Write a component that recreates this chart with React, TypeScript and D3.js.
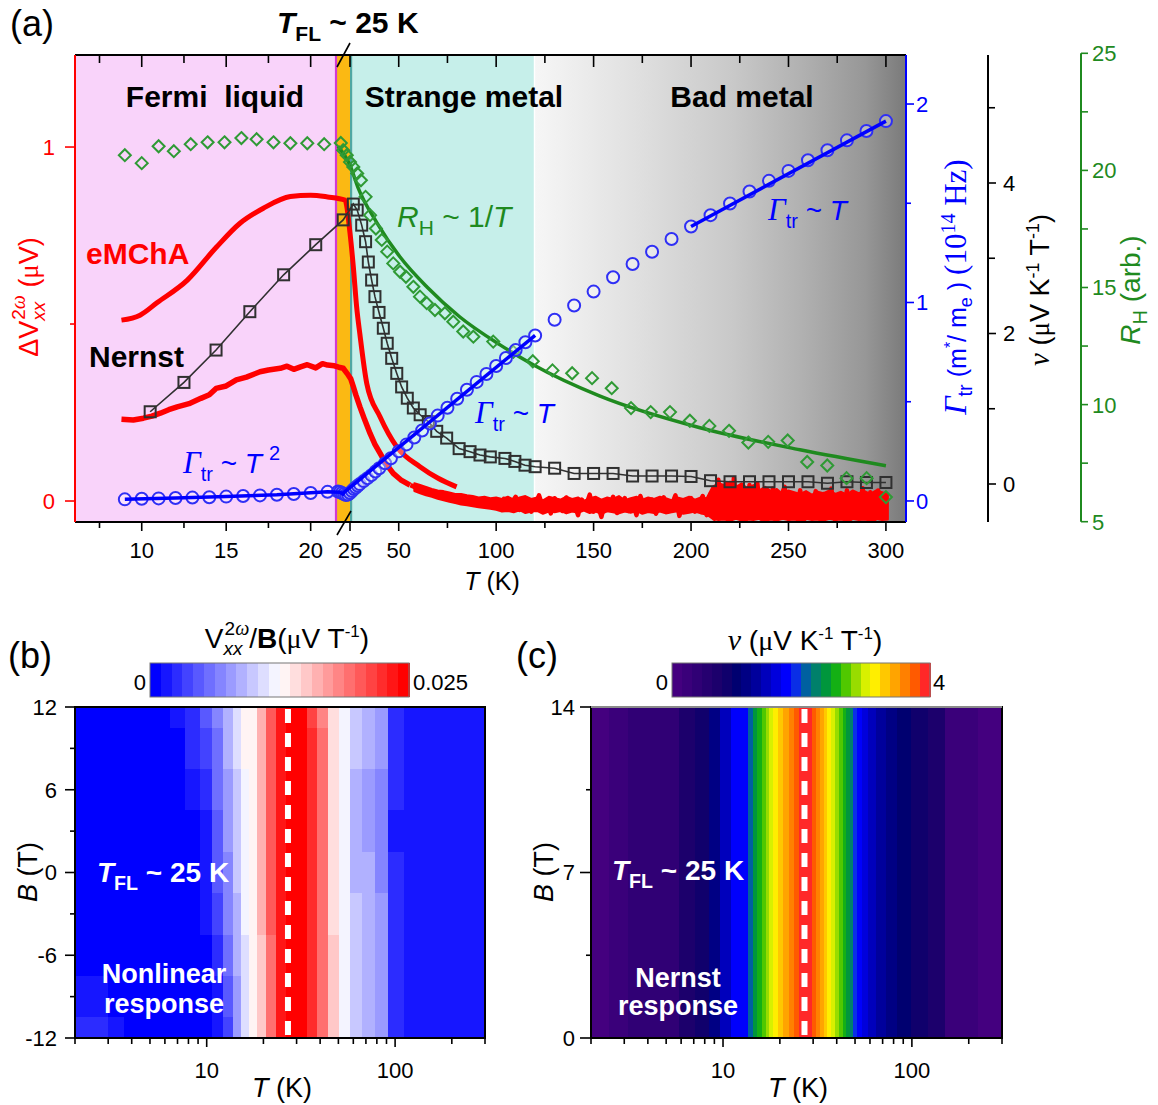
import React from "react";
import * as d3 from "d3";

const SANS = "'Liberation Sans', Arial, Helvetica, sans-serif";
const SERIF = "'Liberation Serif', 'Times New Roman', serif";
const RED = "#ff0000";
const BLUE = "#0000ff";
const GREEN = "#1f8a1f";
const GREEN_MARK = "#2f9a35";
const DARK = "#303030";

// ================= panel (a) =================
// broken T axis: 6-21.5 K stretched, 21.5-25 K squeezed, 25-310 K linear
const tBreaks = [6.05, 21.5, 25, 310.3];

// Γtr (10^14 Hz), open blue circles
const gammaT = [9, 10, 11, 12, 13, 14, 15, 16, 17, 18, 19, 20, 21,
  22, 22.5, 23, 23.5, 24, 24.5,
  25, 26, 27, 28, 29, 30, 32, 34, 36, 38, 40, 43, 46, 50, 54, 58, 62, 66, 70, 75, 80, 85, 90, 95, 100, 105, 110, 115, 120,
  130, 140, 150, 160, 170, 180, 190, 200, 210, 220, 230, 240, 250, 260, 270, 280, 290, 300];
const gammaV = [0.008, 0.011, 0.013, 0.015, 0.017, 0.019, 0.022, 0.025, 0.028, 0.031, 0.035, 0.04, 0.046,
  0.048, 0.045, 0.04, 0.035, 0.03, 0.032,
  0.04, 0.05, 0.06, 0.068, 0.077, 0.085, 0.1, 0.115, 0.13, 0.148, 0.165, 0.19, 0.215, 0.25, 0.285, 0.32, 0.355, 0.39, 0.43, 0.47, 0.515, 0.56, 0.6, 0.64, 0.68, 0.72, 0.76, 0.8, 0.834,
  0.913, 0.985, 1.055, 1.127, 1.194, 1.256, 1.32, 1.383, 1.44, 1.499, 1.559, 1.613, 1.663, 1.717, 1.767, 1.817, 1.864, 1.914];
// fits: Γ ~ T², Γ ~ T (strange metal), Γ ~ T (bad metal)
const gammaSqT = [9, 12, 15, 18, 21, 22.5, 23.6];
const gammaSqV = [0.008, 0.015, 0.022, 0.031, 0.046, 0.044, 0.03];
const gammaLinT = [23.3, 120];
const gammaLinV = [0.04, 0.834];
const gammaHighT = [200, 300];
const gammaHighV = [1.383, 1.914];

// Nernst ν (μV K^-1 T^-1), open squares
const nuT = [10.5, 12.5, 14.4, 16.4, 18.4, 20.3, 23.3,
  26.7, 28.7, 31, 33, 34.4, 36.1, 37.8, 39.9, 42.1, 44.1,
  46.4, 49, 51.5, 54.4, 57.5, 61, 65.2, 69.5, 74.6, 81,
  86.6, 91.7, 97, 104.5, 109.6, 114.8, 120,
  130, 140, 150, 160, 170, 180, 190, 200, 210, 220, 230, 240, 250, 260, 270, 280, 290, 300];
const nuV = [0.96, 1.35, 1.78, 2.29, 2.78, 3.18, 3.51,
  3.72, 3.64, 3.44, 3.22, 2.95, 2.71, 2.49, 2.28, 2.07, 1.87,
  1.67, 1.47, 1.29, 1.14, 1.01, 0.92, 0.83, 0.7, 0.61, 0.47,
  0.43, 0.385, 0.36, 0.34, 0.3, 0.25, 0.23,
  0.21, 0.14, 0.14, 0.14, 0.106, 0.106, 0.106, 0.1, 0.044, 0.03, 0.03, 0.03, 0.03, 0.03, 0.01, 0.03, 0.02, 0.02];

// Hall coefficient R_H (arb.), open diamonds + 1/T fit
const rhT = [9, 10, 11, 11.9, 12.9, 13.9, 14.9, 15.9, 16.8, 17.8, 18.8, 19.8, 20.8,
  22.7, 23.3, 24.2, 25,
  26.7, 28.7, 30.6, 33, 35.3, 38.3, 41.3, 44.1, 47.2, 50.7,
  53.7, 57.5, 60.9, 64.4, 68.6, 73.7, 78, 83.1, 88.3, 98.5,
  108.8, 118.8, 128.9, 139, 149.2, 159.3, 169.2, 179.3, 189.2, 199.4,
  209.4, 219.5, 229.4, 239.6, 249.6, 259.6, 269.9, 279.8, 290.1, 300];
const rhV = [20.65, 20.31, 21.03, 20.82, 21.12, 21.2, 21.2, 21.38, 21.33, 21.2, 21.16, 21.16, 21.12,
  21.17, 20.86, 20.65, 20.36,
  20.15, 19.87, 19.58, 18.87, 18.09, 17.52, 17.03, 16.53, 16.03, 15.67,
  15.46, 15.03, 14.61, 14.33, 14.04, 13.9, 13.54, 13.12, 12.9, 12.69,
  12.25, 11.85, 11.46, 11.34, 11.13, 10.7, 9.85, 9.68, 9.68, 9.31,
  9.09, 8.88, 8.38, 8.41, 8.47, 7.55, 7.4, 6.86, 6.86, 6.05];
const rhFitT = [22, 25, 29, 38.9, 50.7, 64.5, 81.4, 102, 119, 153, 204.6, 255.9, 300];
const rhFitV = [21.03, 20.22, 19.29, 17.75, 16.3, 15.02, 13.74, 12.55, 11.7, 10.37, 9.01, 8.07, 7.39];

// eMChA ΔV (μV): upper smooth trace
const emUpT = [8.8, 9.9, 10.9, 12.7, 14.4, 15.8, 17.2, 18.8, 20, 21, 23.75, 25, 26.7, 28.4, 30.1, 33.6, 40.4, 49, 60.9, 70, 79.7];
const emUpV = [0.511, 0.525, 0.56, 0.624, 0.716, 0.784, 0.827, 0.86, 0.864, 0.859, 0.85, 0.757, 0.662, 0.549, 0.47, 0.332, 0.238, 0.153, 0.097, 0.065, 0.04];
// lower trace
const emLoT = [8.8, 9.5, 10.1, 10.6, 11.1, 11.6, 12.1, 12.8, 13.5, 14,
  14.4, 15, 15.6, 16.2, 17, 17.5, 18.2, 18.6, 19, 19.4,
  19.8, 20.3, 20.7, 21, 21.4, 22.2, 23.3, 24.3, 25.4, 26.7,
  28, 30.1, 32.5, 35.3, 37.8, 40.4, 43.5, 47.2, 51, 55.8];
const emLoV = [0.231, 0.229, 0.234, 0.24, 0.248, 0.258, 0.266, 0.275, 0.29, 0.3,
  0.318, 0.325, 0.342, 0.35, 0.365, 0.37, 0.375, 0.381, 0.372, 0.379,
  0.385, 0.376, 0.388, 0.384, 0.382, 0.378, 0.375, 0.36, 0.345, 0.323,
  0.3, 0.266, 0.23, 0.191, 0.16, 0.135, 0.105, 0.078, 0.06, 0.045];
// noisy tail of the lower trace, every 2 K from 56 K
const emTailT = d3.range(56, 301, 2);
const emTailV = [0.045, 0.04, 0.035, 0.03, 0.027, 0.022, 0.02, 0.016, 0.014, 0.012, 0.01, 0.006, 0.008, 0.003, 0.006, 0.0, 0.004, -0.004, 0.002, -0.006, 0.004, -0.01, 0.0,
  -0.02, 0.006, -0.012, -0.004, 0.012, -0.025, -0.006, 0.004, -0.03, -0.01,
  0.016, -0.018, -0.002, -0.035, 0.008, -0.012, -0.028, 0.01, -0.02, -0.006,
  -0.04, 0.004, -0.015, 0.018, -0.03, -0.008, -0.045, 0.0, -0.02, 0.012,
  -0.034, -0.01, 0.008, -0.028, -0.004, -0.04, 0.014, -0.016, -0.026, 0.004,
  -0.036, -0.008, 0.01, -0.03, -0.012, 0.016, -0.042, -0.004, -0.022, 0.008,
  -0.03, -0.01, 0.014, -0.04, 0.02,
  -0.05, 0.06, -0.03, 0.05, -0.055, 0.065, -0.04, 0.03, -0.055, 0.045,
  -0.02, 0.05, -0.05, 0.02, -0.045, 0.035, -0.055, 0.01, 0.04, -0.05,
  0.02, -0.035, 0.03, -0.055, 0.012, -0.02, 0.028, -0.05, 0.02, -0.04,
  0.035, -0.055, 0.015, -0.03, 0.03, -0.05, 0.02, -0.045, 0.036, -0.03,
  0.025, -0.055, 0.03, -0.04, 0.02];
// dense core of the noisy band (upper / lower edge), every 3 K from 58 K
const emBandT = d3.range(58, 302, 3);
const emBandHi = [0.05, 0.045, 0.04, 0.034, 0.03, 0.028, 0.024, 0.02, 0.02, 0.016, 0.014, 0.01, 0.012, 0.008,
  0.01, 0.006, 0.012, 0.004, 0.01, 0.014, 0.006, 0.01, 0.002, 0.012, 0.008, 0.004, 0.012, 0.006, 0.01, 0.0, 0.008, 0.012, 0.004, 0.01,
  0.006, 0.014, 0.002, 0.008, 0.012, 0.004, 0.01, 0.006, 0.012, 0.008, 0.002, 0.01, 0.006, 0.012, 0.004, 0.01, 0.008,
  0.04, 0.05, 0.045, 0.055, 0.04, 0.05, 0.035, 0.045, 0.03, 0.04, 0.028, 0.034, 0.02, 0.03, 0.025, 0.02, 0.028, 0.018, 0.026, 0.022,
  0.03, 0.02, 0.026, 0.018, 0.03, 0.022, 0.028, 0.02, 0.03, 0.025, 0.02];
const emBandLo = [0.028, 0.022, 0.016, 0.012, 0.006, 0.002, -0.002, -0.006, -0.01, -0.012, -0.015, -0.018, -0.02, -0.022,
  -0.025, -0.03, -0.028, -0.032, -0.026, -0.034, -0.03, -0.028, -0.036, -0.03, -0.032, -0.028, -0.035, -0.03, -0.033, -0.027, -0.034, -0.03, -0.036, -0.029,
  -0.032, -0.035, -0.03, -0.033, -0.028, -0.036, -0.031, -0.034, -0.03, -0.035, -0.032, -0.029, -0.036, -0.033, -0.03, -0.035, -0.038,
  -0.05, -0.054, -0.052, -0.056, -0.05, -0.055, -0.052, -0.054, -0.05, -0.056, -0.052, -0.055, -0.05, -0.054, -0.052, -0.056, -0.05, -0.054, -0.052, -0.055,
  -0.05, -0.054, -0.052, -0.056, -0.05, -0.054, -0.052, -0.055, -0.05, -0.054, -0.052];

// regions (K)
const fermiEnd = 21.5;
const orangeBand = [21.75, 25];
const cyanBand = [26.3, 119.3];
const badBand = [120, 310.3];

// ticks
const xTicksLeft = [10, 15, 20];
const xTicksRight = [25, 50, 100, 150, 200, 250, 300];
const xMinor = [7.5, 12.5, 17.5, 75, 125, 175, 225, 275];
const redTicks = [0, 1];
const redMinor = [0.5];
const blueTicks = [0, 1, 2];
const blueMinor = [0.5, 1.5];
const nuTicks = [0, 2, 4];
const nuMinor = [1, 3, 5];
const rhTicks = [5, 10, 15, 20, 25];
const rhMinor = [7.5, 12.5, 17.5, 22.5];

// ================= panel (b): V2ω/B map =================
const bT = [2.2, 2.7, 3.3, 4, 4.8, 5.8, 7, 8.4, 10, 11.5, 13, 14.5, 16, 17.5, 19.5, 22, 25, 28, 32, 36, 41, 47, 54, 62, 72, 85, 100, 125, 170, 240];
const bB = [12, 9, 6, 3, 0, -3, -6, -9, -12];
// values in 10^-3 μV T^-1, one row per field
const bMap = [
  [0.5, 0.5, 0.5, 0.5, 0.5, 0.5, 1.2, 3, 4.5, 6.5, 8.5, 10.5, 12.5, 13.5, 16.5, 20, 23.5, 24.5, 24, 21.5, 18.5, 14, 11.5, 9.5, 9, 8, 3, 2, 1.5, 1.5],
  [0.5, 0.5, 0.5, 0.5, 0.5, 0.5, 1, 2.5, 4, 6, 8.5, 10.5, 12.5, 13.5, 16.5, 20, 23.5, 25, 24.5, 22, 19, 14.5, 11.5, 9.5, 9, 8, 2.5, 2, 1.5, 1.5],
  [0.5, 0.5, 0.5, 0.5, 0.5, 0.5, 0.5, 1.5, 3, 5.5, 8, 10, 12, 13, 16, 20, 23.5, 25, 24.5, 22, 19, 14.5, 11.5, 9, 8, 7, 2.5, 1.5, 1.5, 1.5],
  [0.5, 0.5, 0.5, 0.5, 0.5, 0.5, 0.5, 1, 2, 5, 7.5, 9.5, 12, 13, 16, 20, 23.5, 25, 24.5, 22, 19, 14.5, 11.5, 8.5, 7.5, 6.5, 1.5, 1.5, 1.5, 1.5],
  [0.5, 0.5, 0.5, 0.5, 0.5, 0.5, 0.5, 0.5, 1.5, 4.5, 7, 9.5, 12, 13, 16, 20, 23.5, 25, 24.5, 22, 19, 14.5, 11.5, 9, 8.5, 7, 2.5, 1.5, 1.5, 1.5],
  [0.5, 0.5, 0.5, 0.5, 0.5, 0.5, 0.5, 0.5, 1.2, 4, 6.5, 9, 11.5, 12.5, 16, 20, 23.5, 25, 24.5, 22, 19, 14.5, 11.5, 9.5, 9, 7.5, 2.5, 1.5, 1.5, 1.5],
  [0.5, 0.5, 0.5, 0.5, 0.5, 0.5, 0.5, 0.5, 1, 3, 6, 8.5, 11, 12.5, 15.5, 19.5, 23.5, 25, 24.5, 22, 19, 15, 12, 9.5, 9, 7.5, 2.5, 2, 1.5, 1.5],
  [1.5, 1.5, 1, 0.5, 0.5, 0.5, 0.5, 0.5, 0.5, 2, 5, 8, 10.5, 12.5, 15.5, 19.5, 23, 24.5, 24.5, 22, 19, 15, 12, 10, 9, 7.5, 2.5, 2, 1.5, 1.5],
  [3, 3, 2, 1, 0.5, 0.5, 0.5, 0.5, 0.5, 1.5, 4, 7.5, 10.5, 12.5, 15.5, 19.5, 23, 24.5, 24, 22, 19, 15, 12, 10, 9, 7.5, 2.5, 2, 1.5, 1.5],
];

// ================= panel (c): Nernst map =================
const cT = [2.2, 2.8, 3.5, 4.3, 5.3, 6.5, 7.8, 9, 10.3, 11.8, 13, 14, 14.8, 15.6, 16.4, 17.2, 18, 19, 20.2, 21.5,
  23, 24.5, 26, 27.5, 29, 30.5, 32, 33.5, 35, 36.5, 38, 40, 42, 44, 46, 48, 50, 52.5, 56, 61,
  68, 78, 90, 110, 135, 165, 200, 250];
const cNu = [0.1, 0.2, 0.38, 0.38, 0.45, 0.7, 0.8, 1.15, 1.46, 1.77, 1.8, 2.08, 2.38, 2.54, 2.69, 2.85, 3.0, 3.15, 3.31, 3.46,
  3.62, 3.77, 3.92, 3.95, 3.92, 3.77, 3.62, 3.46, 3.31, 3.15, 3.0, 2.85, 2.69, 2.54, 2.38, 2.23, 1.92, 1.77, 1.62, 1.46,
  1.31, 1.15, 1.0, 0.8, 0.7, 0.3, 0.2, 0.1];
const cPalette = ["#44007f", "#3a007a", "#300075", "#260070", "#1c006c", "#10006c", "#000070", "#000084", "#00009c",
  "#0000bc", "#0000dc", "#0000fc", "#0a2ee6", "#0060a0", "#00806a", "#00963c", "#14b014", "#50c800", "#98dc00",
  "#d8f000", "#ffee00", "#ffc800", "#ffa400", "#ff8000", "#ff5a00", "#ff2828"];

const logMajor = [10, 100];
const logMinor = [2, 3, 4, 5, 6, 7, 8, 9, 20, 30, 40, 50, 60, 70, 80, 90, 200, 300];
const bYTicks = [12, 6, 0, -6, -12];
const bYMinor = [9, 3, -3, -9];
const cYTicks = [14, 7, 0];
const cYMinor = [10.5, 3.5];
const tFL = 27;

const pairs = (T: number[], V: number[]) => T.map((t, i) => [t, V[i]] as [number, number]);

function Gamma({ x, y, sq }: { x: number; y: number; sq?: boolean }) {
  return (
    <text x={x} y={y} fill={BLUE} fontSize={28}>
      <tspan fontFamily={SERIF} fontStyle="italic" fontSize={31}>Γ</tspan>
      <tspan fontSize={20} dy={8}>tr</tspan>
      <tspan dy={-8} style={{ whiteSpace: "pre" }}> ~ </tspan>
      <tspan fontStyle="italic">T</tspan>
      {sq ? <tspan fontSize={20} dx={7} dy={-13}>2</tspan> : null}
    </text>
  );
}

function TFL({ x, y, fill, size }: { x: number; y: number; fill: string; size: number }) {
  return (
    <text x={x} y={y} fill={fill} fontSize={size} fontWeight="bold">
      <tspan fontStyle="italic">T</tspan>
      <tspan fontSize={size * 0.7} dy={8}>FL</tspan>
      <tspan dy={-8} style={{ whiteSpace: "pre" }}> ~ 25 K</tspan>
    </text>
  );
}

export default function App() {
  // ---------- (a) scales ----------
  const x = d3.scaleLinear().domain(tBreaks).range([75, 336, 350, 906]);
  const yRed = d3.scaleLinear().domain([-0.0593, 1.26]).range([522, 55]);
  const yBlue = d3.scaleLinear().domain([-0.106, 2.247]).range([522, 55]);
  const yNu = d3.scaleLinear().domain([-0.505, 5.701]).range([522, 55]);
  const yRH = d3.scaleLinear().domain([5, 25]).range([521.7, 53.3]);

  const line = (ys: d3.ScaleLinear<number, number>, curve = d3.curveLinear) =>
    d3.line<[number, number]>().x((d) => x(d[0])).y((d) => ys(d[1])).curve(curve);

  const band = d3
    .area<number>()
    .x((t) => x(t))
    .y0((_, i) => yRed(emBandLo[i]))
    .y1((_, i) => yRed(emBandHi[i]));

  // ---------- (b), (c) scales ----------
  const xB = d3.scaleLog().domain([2, 300]).range([75, 485]);
  const yB = d3.scaleLinear().domain([-12, 12]).range([1038, 707]);
  const xC = d3.scaleLog().domain([2, 300]).range([591, 1002]);
  const yC = d3.scaleLinear().domain([0, 14]).range([1038, 707]);

  const bwr = d3.piecewise(d3.interpolateRgb, ["#0000ff", "#ffffff", "#ff0000"]);
  const bPalette = d3.range(24).map((i) => bwr(i / 23));
  const colB = d3.scaleQuantize<string>().domain([0, 25]).range(bPalette);
  const colC = d3.scaleQuantize<string>().domain([0, 4]).range(cPalette);

  const logEdges = (c: number[], lo: number, hi: number) => [lo, ...c.slice(1).map((t, i) => Math.sqrt(t * c[i])), hi];
  const bTE = logEdges(bT, 2, 300);
  const bBE = [12, ...bB.slice(1).map((b, i) => (b + bB[i]) / 2), -12];
  const cTE = logEdges(cT, 2, 300);

  const axisTxt = { fontSize: 22, fill: "#000" };

  return (
    <svg width={1158} height={1105} style={{ position: "absolute", left: 0, top: 0, background: "#fff" }} fontFamily={SANS}>
      <defs>
        <linearGradient id="badGrad" x1="0" x2="1" y1="0" y2="0">
          <stop offset="0" stopColor="#f6f6f6" />
          <stop offset="0.26" stopColor="#e1e1e1" />
          <stop offset="0.53" stopColor="#c9c9c9" />
          <stop offset="0.71" stopColor="#b2b2b2" />
          <stop offset="0.89" stopColor="#979797" />
          <stop offset="1" stopColor="#7a7a7a" />
        </linearGradient>
        <clipPath id="clipA">
          <rect x={75} y={55} width={831} height={467} />
        </clipPath>
      </defs>

      {/* ================= panel (a) ================= */}
      <text x={10} y={36} fontSize={36}>(a)</text>
      <rect x={75} y={55} width={x(fermiEnd) - 75} height={467} fill="#f9d3fa" />
      <rect x={x(orangeBand[0])} y={55} width={x(orangeBand[1]) - x(orangeBand[0])} height={467} fill="#fbb913" />
      <rect x={x(orangeBand[1])} y={55} width={x(cyanBand[0]) - x(orangeBand[1])} height={467} fill="#4fa7a3" />
      <rect x={x(cyanBand[0])} y={55} width={x(cyanBand[1]) - x(cyanBand[0])} height={467} fill="#c6efea" />
      <rect x={x(badBand[0])} y={55} width={x(badBand[1]) - x(badBand[0])} height={467} fill="url(#badGrad)" />
      <line x1={x(fermiEnd)} x2={x(fermiEnd)} y1={55} y2={522} stroke="#d23ad2" strokeWidth={2.2} />

      <text x={215} y={107} textAnchor="middle" fontSize={30} fontWeight="bold" style={{ whiteSpace: "pre" }}>Fermi  liquid</text>
      <text x={464} y={107} textAnchor="middle" fontSize={30} fontWeight="bold">Strange metal</text>
      <text x={742} y={107} textAnchor="middle" fontSize={30} fontWeight="bold">Bad metal</text>

      <g clipPath="url(#clipA)">
        {/* eMChA traces */}
        <path d={band(emBandT) ?? ""} fill={RED} stroke={RED} strokeWidth={2} strokeLinejoin="round" />
        <path d={line(yRed)(pairs(emTailT, emTailV)) ?? ""} fill="none" stroke={RED} strokeWidth={4.5} strokeLinejoin="round" />
        <path d={line(yRed)(pairs(emLoT, emLoV)) ?? ""} fill="none" stroke={RED} strokeWidth={5.5} strokeLinejoin="round" />
        <path d={line(yRed, d3.curveMonotoneX)(pairs(emUpT, emUpV)) ?? ""} fill="none" stroke={RED} strokeWidth={5} strokeLinejoin="round" />

        {/* Nernst */}
        <path d={line(yNu)(pairs(nuT, nuV)) ?? ""} fill="none" stroke={DARK} strokeWidth={1.6} />
        {nuT.map((t, i) => (
          <rect key={"s" + i} x={x(t) - 5.5} y={yNu(nuV[i]) - 5.5} width={11} height={11} fill="none" stroke={DARK} strokeWidth={2} />
        ))}

        {/* Hall */}
        <path d={line(yRH, d3.curveMonotoneX)(pairs(rhFitT, rhFitV)) ?? ""} fill="none" stroke={GREEN} strokeWidth={3.5} />
        {rhT.map((t, i) => (
          <path key={"d" + i} transform={`translate(${x(t)},${yRH(rhV[i])})`} d="M0,-6L6,0L0,6L-6,0Z" fill="none" stroke={GREEN_MARK} strokeWidth={2} />
        ))}

        {/* scattering rate */}
        {gammaT.map((t, i) => (
          <circle key={"c" + i} cx={x(t)} cy={yBlue(gammaV[i])} r={6} fill="#ffffff" fillOpacity={0.35} stroke="#2f2ff5" strokeWidth={2} />
        ))}
        <path d={line(yBlue)(pairs(gammaSqT, gammaSqV)) ?? ""} fill="none" stroke={BLUE} strokeWidth={3.5} />
        <path d={line(yBlue)(pairs(gammaLinT, gammaLinV)) ?? ""} fill="none" stroke={BLUE} strokeWidth={3.5} />
        <path d={line(yBlue)(pairs(gammaHighT, gammaHighV)) ?? ""} fill="none" stroke={BLUE} strokeWidth={3.5} />
      </g>

      {/* annotations */}
      <text x={86} y={264} fill={RED} fontSize={30} fontWeight="bold">eMChA</text>
      <text x={89} y={367} fill="#000" fontSize={30} fontWeight="bold">Nernst</text>
      <Gamma x={183} y={473} sq />
      <Gamma x={475} y={423} />
      <Gamma x={768} y={220} />
      <text x={397} y={227} fill={GREEN} fontSize={30}>
        <tspan fontStyle="italic">R</tspan>
        <tspan fontSize={21} dy={8}>H</tspan>
        <tspan dy={-8} style={{ whiteSpace: "pre" }}> ~ 1/</tspan>
        <tspan fontStyle="italic">T</tspan>
      </text>
      <TFL x={277} y={33} fill="#000" size={30} />

      {/* frame */}
      <line x1={75} x2={906} y1={55} y2={55} stroke="#000" strokeWidth={2} />
      <line x1={75} x2={906} y1={522} y2={522} stroke="#000" strokeWidth={2} />
      <line x1={75} x2={75} y1={55} y2={522} stroke={RED} strokeWidth={2} />
      <line x1={906} x2={906} y1={55} y2={522} stroke={BLUE} strokeWidth={2} />
      {/* axis break marks */}
      <line x1={x(21.75)} x2={x(25)} y1={67} y2={43} stroke="#000" strokeWidth={1.6} />
      <line x1={x(21.75)} x2={x(25.5)} y1={535} y2={511} stroke="#000" strokeWidth={1.6} />

      {/* x ticks */}
      {[...xTicksLeft, ...xTicksRight].map((t) => (
        <g key={"xt" + t}>
          <line x1={x(t)} x2={x(t)} y1={522} y2={531} stroke="#000" strokeWidth={1.6} />
          <line x1={x(t)} x2={x(t)} y1={55} y2={67} stroke="#000" strokeWidth={1.6} />
          <text x={x(t)} y={558} textAnchor="middle" {...axisTxt}>{t}</text>
        </g>
      ))}
      {xMinor.map((t) => (
        <g key={"xm" + t}>
          <line x1={x(t)} x2={x(t)} y1={522} y2={528} stroke="#000" strokeWidth={1.6} />
          <line x1={x(t)} x2={x(t)} y1={55} y2={63} stroke="#000" strokeWidth={1.6} />
        </g>
      ))}
      <text x={492} y={590} textAnchor="middle" fontSize={25}>
        <tspan fontStyle="italic">T</tspan> (K)
      </text>

      {/* red left axis */}
      {redTicks.map((v) => (
        <g key={"rt" + v}>
          <line x1={65} x2={75} y1={yRed(v)} y2={yRed(v)} stroke={RED} strokeWidth={1.6} />
          <text x={55} y={yRed(v)} dy="0.36em" textAnchor="end" fontSize={22} fill={RED}>{v}</text>
        </g>
      ))}
      {redMinor.map((v) => (
        <line key={"rm" + v} x1={70} x2={75} y1={yRed(v)} y2={yRed(v)} stroke={RED} strokeWidth={1.6} />
      ))}
      <text transform="translate(38,297) rotate(-90)" textAnchor="middle" fill={RED} fontSize={27}>
        <tspan>ΔV</tspan>
        <tspan fontSize={19} fontStyle="italic" dy={7}>xx</tspan>
        <tspan fontSize={19} dx={-18} dy={-20}>2</tspan>
        <tspan fontSize={20} fontFamily={SERIF} fontStyle="italic">ω</tspan>
        <tspan dy={13} style={{ whiteSpace: "pre" }}> (</tspan>
        <tspan fontFamily={SERIF}>μ</tspan>
        <tspan>V)</tspan>
      </text>

      {/* blue right axis */}
      {blueTicks.map((v) => (
        <g key={"bt" + v}>
          <line x1={906} x2={914} y1={yBlue(v)} y2={yBlue(v)} stroke={BLUE} strokeWidth={1.6} />
          <text x={916} y={yBlue(v)} dy="0.36em" fontSize={22} fill={BLUE}>{v}</text>
        </g>
      ))}
      {blueMinor.map((v) => (
        <line key={"bm" + v} x1={906} x2={911} y1={yBlue(v)} y2={yBlue(v)} stroke={BLUE} strokeWidth={1.6} />
      ))}
      <text transform="translate(966,287) rotate(-90)" textAnchor="middle" fill={BLUE} fontSize={25}>
        <tspan fontFamily={SERIF} fontStyle="italic" fontSize={32}>Γ</tspan>
        <tspan fontSize={20} dy={6}>tr</tspan>
        <tspan dy={-6} style={{ whiteSpace: "pre" }}> (m</tspan>
        <tspan fontSize={16} dy={-10}>*</tspan>
        <tspan dy={10} style={{ whiteSpace: "pre" }}>/ m</tspan>
        <tspan fontSize={18} dy={6}>e</tspan>
        <tspan dy={-6} style={{ whiteSpace: "pre" }}> ) </tspan>
        <tspan fontFamily={SERIF} fontSize={31}>(10</tspan>
        <tspan fontFamily={SERIF} fontSize={20} dy={-11}>14</tspan>
        <tspan fontFamily={SERIF} fontSize={31} dy={11} style={{ whiteSpace: "pre" }}> Hz)</tspan>
      </text>

      {/* black ν axis */}
      <line x1={988} x2={988} y1={55} y2={522} stroke="#000" strokeWidth={2} />
      {nuTicks.map((v) => (
        <g key={"nt" + v}>
          <line x1={988} x2={996} y1={yNu(v)} y2={yNu(v)} stroke="#000" strokeWidth={1.6} />
          <text x={1003} y={yNu(v)} dy="0.36em" fontSize={22}>{v}</text>
        </g>
      ))}
      {nuMinor.map((v) => (
        <line key={"nm" + v} x1={988} x2={995} y1={yNu(v)} y2={yNu(v)} stroke="#000" strokeWidth={1.6} />
      ))}
      <text transform="translate(1049,290) rotate(-90)" textAnchor="middle" fontSize={27}>
        <tspan fontFamily={SERIF} fontStyle="italic" fontSize={29}>ν</tspan>
        <tspan style={{ whiteSpace: "pre" }}> (</tspan>
        <tspan fontFamily={SERIF}>μ</tspan>
        <tspan style={{ whiteSpace: "pre" }}>V K</tspan>
        <tspan fontSize={18} dy={-10}>-1</tspan>
        <tspan dy={10} style={{ whiteSpace: "pre" }}> T</tspan>
        <tspan fontSize={18} dy={-10}>-1</tspan>
        <tspan dy={10}>)</tspan>
      </text>

      {/* green R_H axis */}
      <line x1={1081} x2={1081} y1={yRH(25)} y2={yRH(5)} stroke={GREEN} strokeWidth={2} />
      {rhTicks.map((v) => (
        <g key={"gt" + v}>
          <line x1={1081} x2={1088} y1={yRH(v)} y2={yRH(v)} stroke={GREEN} strokeWidth={1.6} />
          <text x={1092} y={yRH(v)} dy="0.36em" fontSize={22} fill={GREEN}>{v}</text>
        </g>
      ))}
      {rhMinor.map((v) => (
        <line key={"gm" + v} x1={1081} x2={1088} y1={yRH(v)} y2={yRH(v)} stroke={GREEN} strokeWidth={1.6} />
      ))}
      <text transform="translate(1140,290) rotate(-90)" textAnchor="middle" fill={GREEN} fontSize={28}>
        <tspan fontStyle="italic">R</tspan>
        <tspan fontSize={20} dy={7}>H</tspan>
        <tspan dy={-7} style={{ whiteSpace: "pre" }}> (arb.)</tspan>
      </text>

      {/* ================= panel (b) ================= */}
      <text x={8} y={668} fontSize={36}>(b)</text>
      <g shapeRendering="crispEdges">
        {bMap.map((row, i) =>
          row.map((v, j) => (
            <rect key={`b${i}-${j}`} x={xB(bTE[j])} y={yB(bBE[i])} width={xB(bTE[j + 1]) - xB(bTE[j]) + 0.6}
              height={yB(bBE[i + 1]) - yB(bBE[i]) + 0.6} fill={colB(v)} />
          ))
        )}
        {bPalette.map((c, i) => (
          <rect key={"bp" + i} x={150 + (i * 259) / 24} y={663} width={259 / 24 + 0.6} height={34} fill={c} />
        ))}
      </g>
      <rect x={150} y={663} width={259} height={34} fill="none" stroke="#777" strokeWidth={1} />
      <line x1={xB(tFL)} x2={xB(tFL)} y1={709} y2={1036} stroke="#fff" strokeWidth={6} strokeDasharray="14 10" />
      <rect x={75} y={707} width={410} height={331} fill="none" stroke="#000" strokeWidth={2} />
      <text x={146} y={690} textAnchor="end" fontSize={22}>0</text>
      <text x={413} y={690} fontSize={22}>0.025</text>
      <text x={287} y={648} textAnchor="middle" fontSize={28}>
        <tspan>V</tspan>
        <tspan fontSize={19} fontStyle="italic" dy={7}>xx</tspan>
        <tspan fontSize={19} dx={-18} dy={-20}>2</tspan>
        <tspan fontSize={20} fontFamily={SERIF} fontStyle="italic">ω</tspan>
        <tspan dy={13}>/</tspan>
        <tspan fontWeight="bold">B</tspan>
        <tspan>(</tspan>
        <tspan fontFamily={SERIF}>μ</tspan>
        <tspan style={{ whiteSpace: "pre" }}>V T</tspan>
        <tspan fontSize={17} dy={-11}>-1</tspan>
        <tspan dy={11}>)</tspan>
      </text>
      {bYTicks.map((v) => (
        <g key={"by" + v}>
          <line x1={65} x2={75} y1={yB(v)} y2={yB(v)} stroke="#000" strokeWidth={1.6} />
          <text x={57} y={yB(v)} dy="0.36em" textAnchor="end" {...axisTxt}>{v}</text>
        </g>
      ))}
      {bYMinor.map((v) => (
        <line key={"bym" + v} x1={70} x2={75} y1={yB(v)} y2={yB(v)} stroke="#000" strokeWidth={1.6} />
      ))}
      {logMajor.map((t) => (
        <g key={"bx" + t}>
          <line x1={xB(t)} x2={xB(t)} y1={1038} y2={1047} stroke="#000" strokeWidth={1.6} />
          <text x={xB(t)} y={1078} textAnchor="middle" {...axisTxt}>{t}</text>
        </g>
      ))}
      {logMinor.map((t) => (
        <line key={"bxm" + t} x1={xB(t)} x2={xB(t)} y1={1038} y2={1044} stroke="#000" strokeWidth={1.6} />
      ))}
      <text x={282} y={1097} textAnchor="middle" fontSize={27}>
        <tspan fontStyle="italic">T</tspan> (K)
      </text>
      <text transform="translate(37,872) rotate(-90)" textAnchor="middle" fontSize={27}>
        <tspan fontStyle="italic">B</tspan> (T)
      </text>
      <TFL x={97} y={882} fill="#fff" size={28} />
      <text x={164} y={983} textAnchor="middle" fontSize={27} fontWeight="bold" fill="#fff">Nonlinear</text>
      <text x={164} y={1013} textAnchor="middle" fontSize={27} fontWeight="bold" fill="#fff">response</text>

      {/* ================= panel (c) ================= */}
      <text x={516} y={668} fontSize={36}>(c)</text>
      <g shapeRendering="crispEdges">
        {cNu.map((v, j) => (
          <rect key={"c" + j} x={xC(cTE[j])} y={707} width={xC(cTE[j + 1]) - xC(cTE[j]) + 0.6} height={331} fill={colC(v)} />
        ))}
        {cPalette.map((c, i) => (
          <rect key={"cp" + i} x={672 + (i * 258) / cPalette.length} y={663} width={258 / cPalette.length + 0.6} height={34} fill={c} />
        ))}
      </g>
      <rect x={672} y={663} width={258} height={34} fill="none" stroke="#777" strokeWidth={1} />
      <line x1={xC(tFL)} x2={xC(tFL)} y1={709} y2={1036} stroke="#fff" strokeWidth={6} strokeDasharray="14 10" />
      <rect x={591} y={707} width={411} height={331} fill="none" stroke="#000" strokeWidth={2} />
      <line x1={591} x2={1002} y1={707} y2={707} stroke="#8a8a8a" strokeWidth={2} />
      <text x={668} y={690} textAnchor="end" fontSize={22}>0</text>
      <text x={933} y={690} fontSize={22}>4</text>
      <text x={805} y={650} textAnchor="middle" fontSize={28}>
        <tspan fontFamily={SERIF} fontStyle="italic" fontSize={30}>ν</tspan>
        <tspan style={{ whiteSpace: "pre" }}> (</tspan>
        <tspan fontFamily={SERIF}>μ</tspan>
        <tspan style={{ whiteSpace: "pre" }}>V K</tspan>
        <tspan fontSize={17} dy={-11}>-1</tspan>
        <tspan dy={11} style={{ whiteSpace: "pre" }}> T</tspan>
        <tspan fontSize={17} dy={-11}>-1</tspan>
        <tspan dy={11}>)</tspan>
      </text>
      {cYTicks.map((v) => (
        <g key={"cy" + v}>
          <line x1={580} x2={591} y1={yC(v)} y2={yC(v)} stroke="#000" strokeWidth={1.6} />
          <text x={575} y={yC(v)} dy="0.36em" textAnchor="end" {...axisTxt}>{v}</text>
        </g>
      ))}
      {cYMinor.map((v) => (
        <line key={"cym" + v} x1={586} x2={591} y1={yC(v)} y2={yC(v)} stroke="#000" strokeWidth={1.6} />
      ))}
      {logMajor.map((t) => (
        <g key={"cx" + t}>
          <line x1={xC(t)} x2={xC(t)} y1={1038} y2={1047} stroke="#000" strokeWidth={1.6} />
          <text x={xC(t)} y={1078} textAnchor="middle" {...axisTxt}>{t}</text>
        </g>
      ))}
      {logMinor.map((t) => (
        <line key={"cxm" + t} x1={xC(t)} x2={xC(t)} y1={1038} y2={1044} stroke="#000" strokeWidth={1.6} />
      ))}
      <text x={798} y={1097} textAnchor="middle" fontSize={27}>
        <tspan fontStyle="italic">T</tspan> (K)
      </text>
      <text transform="translate(553,872) rotate(-90)" textAnchor="middle" fontSize={27}>
        <tspan fontStyle="italic">B</tspan> (T)
      </text>
      <TFL x={612} y={880} fill="#fff" size={28} />
      <text x={678} y={987} textAnchor="middle" fontSize={27} fontWeight="bold" fill="#fff">Nernst</text>
      <text x={678} y={1015} textAnchor="middle" fontSize={27} fontWeight="bold" fill="#fff">response</text>
    </svg>
  );
}
